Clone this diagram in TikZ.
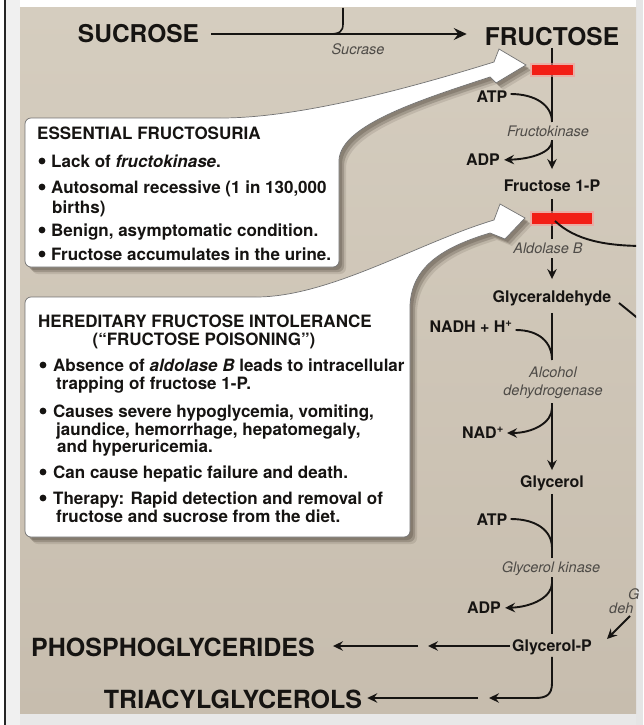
\documentclass[tikz,border=0pt]{standalone}
\usepackage{fontspec}
\setmainfont{TeX Gyre Heros}
\usetikzlibrary{arrows.meta}
\definecolor{beigeT}{RGB}{213,205,191}
\definecolor{beigeB}{RGB}{199,189,174}
\definecolor{enzgray}{RGB}{78,75,71}
\definecolor{barred}{RGB}{242,30,22}
\definecolor{inkc}{RGB}{22,20,18}
\definecolor{shadowc}{RGB}{55,45,35}
\tikzset{
  bigl/.style={font=\fontsize{24.5}{28}\selectfont\bfseries, text=inkc, inner sep=0pt, text height=17.5pt, text depth=0pt},
  bigm/.style={font=\fontsize{25}{28}\selectfont\bfseries, text=inkc, inner sep=0pt, text height=17.9pt, text depth=0pt},
  met/.style={font=\fontsize{16}{18}\selectfont\bfseries, text=inkc, inner sep=0pt, text height=11.5pt, text depth=0pt},
  enz/.style={font=\fontsize{14.5}{16}\selectfont\itshape, text=enzgray, inner sep=0pt, text height=10.4pt, text depth=0pt},
  boxt/.style={font=\fontsize{17}{19}\selectfont\bfseries, text=inkc, inner sep=0pt, anchor=base west},
  flow/.style={line width=1.9pt, draw=inkc},
  thinflow/.style={line width=1.6pt, draw=inkc},
  tipa/.style={-{Stealth[length=10pt,width=9.5pt,inset=3.5pt]}},
  tipb/.style={-{Stealth[length=13pt,width=12pt,inset=4.5pt]}},
  calloutfill/.style={fill=white, draw=black!55, line width=0.7pt},
}
\def\calloutA{(25,190) [rounded corners=6pt] -- (25,118) -- (215,118) [sharp corners] .. controls (300,118) and (410,88) .. (494,62) -- (499,49) -- (526,65) -- (496,83) -- (490,77) .. controls (420,100) and (341,125) .. (339,160) [rounded corners=6pt] -- (339,267) -- (25,267) -- (25,190) -- cycle}
\def\calloutB{(25,400) [rounded corners=6pt] -- (25,297) -- (250,297) [sharp corners] .. controls (330,297) and (420,242) .. (494,220) -- (500,204) -- (525,218) -- (505,239) -- (490,233) .. controls (440,248) and (412,268) .. (410,305) [rounded corners=6pt] -- (410,537) -- (25,537) -- (25,400) -- cycle}
\begin{document}
\begin{tikzpicture}[x=1pt,y=-1pt]
\useasboundingbox (0,0) rectangle (643,725);
% background
\fill[white] (0,0) rectangle (643,725);
\fill[black!6] (5,0) rectangle (20,725);
\fill[black!10] (636,0) rectangle (643,725);
\fill[black!9] (20,713) rectangle (636,725);
\shade[top color=beigeT, bottom color=beigeB] (20,8) rectangle (636,713);
\draw[black!85, line width=1.3pt] (5,0) -- (5,725);

% callout shadows and bodies
\foreach \s/\o in {3/0.22, 5/0.22, 7/0.12} {
  \fill[shadowc, opacity=\o, shift={(\s,\s)}] \calloutA;
  \fill[shadowc, opacity=\o, shift={(\s,\s)}] \calloutB;
}
\filldraw[calloutfill] \calloutA;
\filldraw[calloutfill] \calloutB;

% box 1 text
\node[boxt] (e0) at (37,139) {ESSENTIAL FRUCTOSURIA};
\node[boxt] (e1) at (51,167) {Lack of \textit{fructokinase}.};
\node[boxt] (e2) at (51,193) {Autosomal recessive (1 in 130,000};
\node[boxt] (e3) at (52,213) {births)};
\node[boxt] (e4) at (51,236) {Benign, asymptomatic condition.};
\node[boxt] (e5) at (51,260) {Fructose accumulates in the urine.};
\foreach \y in {161,187,230,254} \fill[inkc] (42,\y) circle[radius=3.4pt];

% box 2 text
\node[boxt] (h0) at (38,327) {HEREDITARY FRUCTOSE INTOLERANCE};
\node[boxt, anchor=base] (h1) at (204,345) {(“FRUCTOSE POISONING”)};
\node[boxt] (h2) at (53,371) {Absence of \textit{aldolase B} leads to intracellular};
\node[boxt] (h3) at (56,389) {trapping of fructose 1-P.};
\node[boxt] (h4) at (53,417) {Causes severe hypoglycemia, vomiting,};
\node[boxt] (h5) at (56,435) {jaundice, hemorrhage, hepatomegaly,};
\node[boxt] (h6) at (57,452) {and hyperuricemia.};
\node[boxt] (h7) at (53,478) {Can cause hepatic failure and death.};
\node[boxt] (h8) at (53,504) {Therapy: Rapid detection and removal of};
\node[boxt] (h9) at (56,522) {fructose and sucrose from the diet.};
\foreach \y in {365,411,472,498} \fill[inkc] (43,\y) circle[radius=3.4pt];

% top line
\node[bigl] (suc) at (138.5,34) {SUCROSE};
\node[bigl] (fru) at (552,37) {FRUCTOSE};
\node[enz] (sucr) at (358,49) {Sucrase};
\draw[thinflow, tipb, shorten <=12pt, shorten >=18pt] (suc.east) -- (suc.east -| fru.west);
\coordinate (stop) at (343,8);
\coordinate (sjoin) at (330,34);
\draw[thinflow] (stop) -- (343,24) .. controls (343,31) and (340,34) .. (sjoin);

% pathway nodes
\node[enz] (fk) at (548,131) {Fructokinase};
\node[met] (atp1) at (492,97) {ATP};
\node[met] (adp1) at (483,160) {ADP};
\node[met] (f1p) at (552,186) {Fructose 1-P};
\node[enz] (aldb) at (548,248) {Aldolase B};
\node[met] (gald) at (552,297) {Glyceraldehyde};
\node[met] (nadh) at (471,327) {NADH + H\textsuperscript{+}};
\node[enz] (adh1) at (553,372) {Alcohol};
\node[enz] (adh2) at (553,390) {dehydrogenase};
\node[met] (nad) at (483,433) {NAD\textsuperscript{+}};
\node[met] (gly) at (552,482) {Glycerol};
\node[met] (atp2) at (492,520) {ATP};
\node[enz] (gk) at (551,567) {Glycerol kinase};
\node[met] (adp2) at (484,608) {ADP};
\node[met] (glyp) at (552,646) {Glycerol-P};
\node[bigm] (phos) at (173,648) {PHOSPHOGLYCERIDES};
\node[bigm] (tri) at (233,700) {TRIACYLGLYCEROLS};

% main line
\draw[flow, shorten <=2pt, shorten >=4pt] (fru.south) -- (fru.south |- fk.north);
\draw[flow, tipa, shorten <=4pt, shorten >=11pt] (fru.south |- fk.south) -- (f1p.north);
\draw[flow, shorten <=7pt, shorten >=4pt] (f1p.south) -- (f1p.south |- aldb.north);
\draw[flow, tipa, shorten <=5pt, shorten >=12pt] (f1p.south |- aldb.south) -- (gald.north);
\draw[flow, shorten <=10pt, shorten >=7pt] (gald.south) -- (gald.south |- adh1.north);
\draw[flow, tipa, shorten <=8pt, shorten >=6pt] (gald.south |- adh2.south) -- (gly.north);
\draw[flow, shorten <=6pt, shorten >=4pt] (gly.south) -- (gly.south |- gk.north);
\draw[flow, shorten <=5pt, shorten >=6pt] (gly.south |- gk.south) -- (glyp.north);

% cofactors
\coordinate (j1) at (552,122);
\coordinate (j2) at (552,141);
\coordinate (j3) at (552,360);
\coordinate (j4) at (552,408);
\coordinate (j5) at (552,548);
\coordinate (j6) at (552,583);
\draw[flow, shorten <=3pt] ([yshift=3pt]atp1.east) .. controls (535,94) and (552,105) .. (j1);
\draw[flow, tipa, shorten >=4pt] (j2) .. controls (552,152) and (532,159) .. (adp1.east);
\draw[flow, shorten <=3pt] ([yshift=-3pt]nadh.east) .. controls (540,330) and (552,343) .. (j3);
\draw[flow, tipa, shorten >=3pt] (j4) .. controls (552,423) and (532,433) .. (nad.east);
\draw[flow, shorten <=3pt] ([yshift=1pt]atp2.east) .. controls (537,519) and (552,531) .. (j5);
\draw[flow, tipa, shorten >=4pt] (j6) .. controls (552,597) and (532,607) .. (adp2.east);

% outputs
\coordinate (p1) at (428,646);
\coordinate (p2) at (418,646);
\draw[flow, tipa, shorten <=2pt] (glyp.west) -- (p1);
\draw[flow, tipa, shorten >=18pt] (p2) -- (phos.east |- p2);
\coordinate (t1) at (489,698);
\coordinate (t2) at (478,698);
\draw[flow, tipa, shorten <=5pt] (glyp.south) -- (552,683) .. controls (552,695) and (546,698) .. (535,698) -- (t1);
\draw[flow, tipa, shorten >=5pt] (t2) -- (tri.east |- t2);

% red bars
\fill[barred!45, opacity=.6] (530,63) rectangle (575,77);
\fill[barred] (532,65) rectangle (573,75);
\fill[barred!45, opacity=.6] (530,211) rectangle (594,226);
\fill[barred] (532,213) rectangle (592,224);

% right edge, clipped branches
\begin{scope}
\clip (20,8) rectangle (636,713);
\coordinate (br0) at (555,221);
\coordinate (br1) at (645,246);
\draw[flow] (br0) .. controls (575,240) and (605,246) .. (br1);
\coordinate (dg0) at (619,303);
\coordinate (dg1) at (640,320);
\draw[flow] (dg0) -- (dg1);
\end{scope}
\node[enz, anchor=west] (gtxt) at (628,594) {G};
\node[enz, anchor=west] (dtxt) at (609,608) {deh};
\coordinate (g1) at (630,616);
\coordinate (g2) at (607,639);
\draw[flow, tipa] (g1) -- (g2);
\end{tikzpicture}
\end{document}
